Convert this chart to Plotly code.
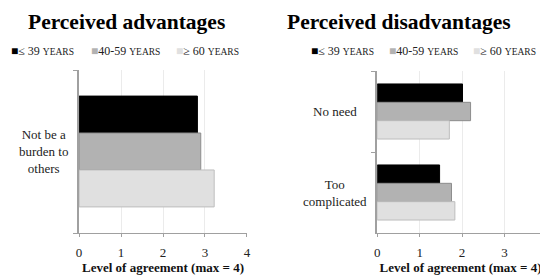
import plotly.graph_objects as go

# ---- data ----
age_groups = ["≤ 39", "40-59", "≥ 60"]
group_colors = ["#000000", "#b2b2b2", "#e0e0e0"]
edge_colors = ["#000000", "#8c8c8c", "#bdbdbd"]

adv_categories = ["Not be a<br>burden to<br>others"]
adv_young = [2.82]
adv_mid = [2.90]
adv_old = [3.22]

dis_categories = ["No need", "Too<br>complicated"]
dis_young = [2.01, 1.47]
dis_mid = [2.20, 1.75]
dis_old = [1.70, 1.83]

x_ticks = [0, 1, 2, 3, 4]
x_title = "Level of agreement (max = 4)"
titles = ["Perceived advantages", "Perceived disadvantages"]

# page body has an 8px margin: the figure is drawn offset by (8, 8)
OFF = 8
W, H = 548 - OFF, 277 - OFF
SERIF = "Liberation Serif"

fig = go.Figure()

for vals, cats, xa, ya in [
    ([adv_young, adv_mid, adv_old], adv_categories, "x", "y"),
    ([dis_young, dis_mid, dis_old], dis_categories, "x2", "y2"),
]:
    for i, v in enumerate(vals):
        fig.add_trace(go.Bar(
            x=v, y=cats, orientation="h", name=age_groups[i],
            marker=dict(color=group_colors[i], line=dict(color=edge_colors[i], width=1)),
            xaxis=xa, yaxis=ya, showlegend=False,
        ))

def px_x(p):
    return (p - OFF) / W

def px_y(p):
    return 1 - (p - OFF) / H

axis_common = dict(
    tickvals=x_ticks, ticks="outside", ticklen=3, tickcolor="#a0a0a0",
    showgrid=True, gridcolor="#ebebeb", gridwidth=1,
    showline=True, linecolor="#a0a0a0", linewidth=1,
    zeroline=False, ticklabelstandoff=4,
    tickfont=dict(family=SERIF, size=13, color="#222"),
    title=dict(text="<b>" + x_title + "</b>", font=dict(family=SERIF, size=13, color="#111"), standoff=1),
)
yaxis_common = dict(
    showticklabels=False, ticks="outside", ticklen=4, tickcolor="#a0a0a0",
    tickson="boundaries", showline=True, linecolor="#a0a0a0", linewidth=2,
    showgrid=False, zeroline=False,
)

fig.update_layout(
    width=W, height=H,
    margin=dict(l=0, r=0, t=0, b=0),
    paper_bgcolor="white", plot_bgcolor="white",
    barmode="group", bargap=0.32, bargroupgap=0,
    showlegend=False,
    font=dict(family=SERIF),
    xaxis=dict(domain=[px_x(77), px_x(247)], range=[0, 4], anchor="y", **axis_common),
    yaxis=dict(domain=[px_y(233), px_y(70)], range=[0.5, -0.5], anchor="x", **yaxis_common),
    xaxis2=dict(domain=[px_x(379), 1.0], range=[0, 3.93], anchor="y2", **axis_common),
    yaxis2=dict(domain=[px_y(233), px_y(71)], range=[1.5, -0.5], anchor="x2", **yaxis_common),
)

annotations = []
# titles
for t, cx in zip(titles, [125, 401]):
    annotations.append(dict(
        text="<b>" + t + "</b>", x=px_x(cx), y=px_y(22), xref="paper", yref="paper",
        xanchor="center", yanchor="middle", showarrow=False,
        font=dict(family=SERIF, size=21.5, color="#000"),
    ))

# legends (manual, small squares)
legend_x = [[6, 87, 173], [310, 389, 474]]
for xs in legend_x:
    for g, c, e, lx in zip(age_groups, group_colors, edge_colors, xs):
        annotations.append(dict(
            text=f'<span style="color:{c}">■</span>{g} <span style="font-size:9.5px">YEARS</span>',
            x=px_x(lx), y=px_y(51), xref="paper", yref="paper",
            xanchor="left", yanchor="middle", showarrow=False,
            font=dict(family=SERIF, size=12, color="#222"),
        ))

# category labels
for cats, ya, cx in [(adv_categories, "y", 41), (dis_categories, "y2", 336)]:
    for c in cats:
        annotations.append(dict(
            text=c, x=px_x(cx), y=c, xref="paper", yref=ya,
            xanchor="center", yanchor="middle", showarrow=False, align="center",
            font=dict(family=SERIF, size=13, color="#222"),
        ))

fig.update_layout(annotations=annotations)
fig.write_html("out.html")
